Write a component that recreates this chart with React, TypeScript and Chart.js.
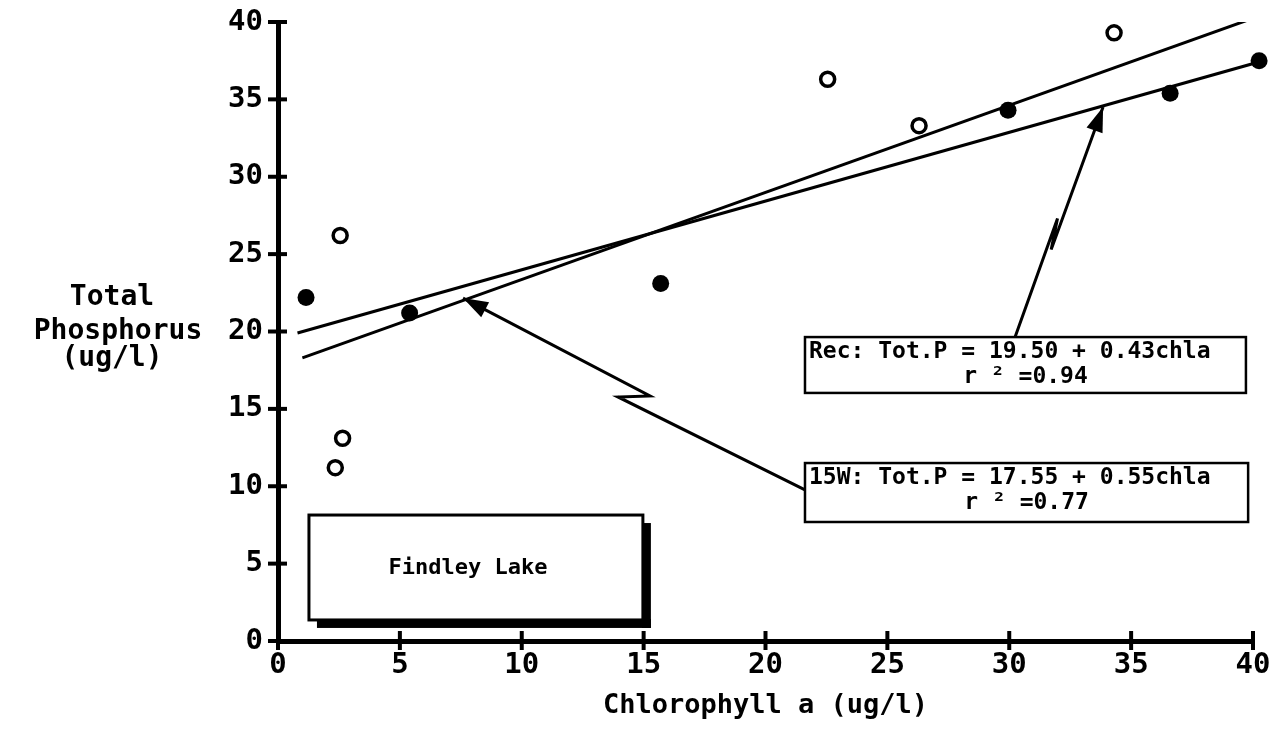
import React, { useEffect, useRef } from 'react';
import { Chart, registerables } from 'chart.js';

Chart.register(...registerables);

// ---- data ----
const xTicks = [0, 5, 10, 15, 20, 25, 30, 35, 40];
const yTicks = [0, 5, 10, 15, 20, 25, 30, 35, 40];

const filledX = [1.15, 5.4, 15.7, 29.95, 36.6, 40.25];
const filledY = [22.2, 21.2, 23.1, 34.3, 35.4, 37.5];

const openX = [2.55, 2.35, 2.65, 22.55, 26.3, 34.3];
const openY = [26.2, 11.2, 13.1, 36.3, 33.3, 39.3];

const recLineX = [0.8, 40.2];
const recLineY = [19.9, 37.4];
const w15LineX = [1.0, 40.1];
const w15LineY = [18.3, 40.3];

const xTitle = 'Chlorophyll a (ug/l)';
const yTitleLines = ['Total', 'Phosphorus', '(ug/l)'];
const lakeLabel = 'Findley Lake';
const recLabel = ['Rec: Tot.P = 19.50 + 0.43chla', 'r ² =0.94'];
const w15Label = ['15W: Tot.P = 17.55 + 0.55chla', 'r ² =0.77'];

// annotation anchors (data units)
const lakeBox = [1.27, 8.14, 14.97, 1.36];
const recBox = [21.62, 19.64, 39.71, 16.03];
const w15Box = [21.62, 11.5, 39.8, 7.69];
const recArrowX = [30.24, 31.98, 31.72, 33.85];
const recArrowY = [19.64, 27.3, 25.3, 34.51];
const w15ArrowX = [21.62, 13.95, 15.26, 7.59];
const w15ArrowY = [9.76, 15.77, 15.83, 22.16];

const FONT = '"DejaVu Sans Mono", monospace';

const toPts = (xs: number[], ys: number[]) => xs.map((x, i) => ({ x, y: ys[i] }));

const annotationPlugin = {
  id: 'annotations',
  afterDraw(chart: any) {
    const { ctx, chartArea, scales } = chart;
    const xs = scales.x;
    const ys = scales.y;
    const px = (v: number) => xs.getPixelForValue(v);
    const py = (v: number) => ys.getPixelForValue(v);
    ctx.save();
    ctx.strokeStyle = '#000';
    ctx.fillStyle = '#000';
    ctx.lineCap = 'butt';

    // tick marks crossing the axes
    ctx.lineWidth = 4;
    xTicks.forEach((t) => {
      const x = px(t);
      ctx.beginPath();
      ctx.moveTo(x, chartArea.bottom - 10);
      ctx.lineTo(x, chartArea.bottom + 9);
      ctx.stroke();
    });
    yTicks.forEach((t) => {
      const y = py(t);
      ctx.beginPath();
      ctx.moveTo(chartArea.left - 10, y);
      ctx.lineTo(chartArea.left + 9, y);
      ctx.stroke();
    });

    // y axis title (horizontal, three lines)
    ctx.font = `bold 28px ${FONT}`;
    ctx.textAlign = 'center';
    ctx.textBaseline = 'middle';
    const yc = py(20);
    const tx = chartArea.left - 160;
    ctx.fillText(yTitleLines[0], tx - 6, yc - 34);
    ctx.fillText(yTitleLines[1], tx, yc);
    ctx.fillText(yTitleLines[2], tx - 6, yc + 27);

    // Findley Lake box with shadow
    {
      const x0 = px(lakeBox[0]), y0 = py(lakeBox[1]), x1 = px(lakeBox[2]), y1 = py(lakeBox[3]);
      ctx.fillRect(x1 - 1, y0 + 8, 9, y1 - y0);
      ctx.fillRect(x0 + 8, y1 - 1, x1 - x0, 9);
      ctx.fillStyle = '#fff';
      ctx.fillRect(x0, y0, x1 - x0, y1 - y0);
      ctx.fillStyle = '#000';
      ctx.lineWidth = 3;
      ctx.strokeRect(x0, y0, x1 - x0, y1 - y0);
      ctx.font = `bold 22px ${FONT}`;
      ctx.fillText(lakeLabel, (x0 + x1) / 2 - 8, (y0 + y1) / 2 + 1);
    }

    // equation boxes
    const eqBox = (b: number[], lines: string[]) => {
      const x0 = px(b[0]), y0 = py(b[1]), x1 = px(b[2]), y1 = py(b[3]);
      ctx.fillStyle = '#fff';
      ctx.fillRect(x0, y0, x1 - x0, y1 - y0);
      ctx.fillStyle = '#000';
      ctx.lineWidth = 2.5;
      ctx.strokeRect(x0, y0, x1 - x0, y1 - y0);
      ctx.font = `bold 23px ${FONT}`;
      ctx.textAlign = 'left';
      ctx.fillText(lines[0], x0 + 4, y0 + 15);
      ctx.textAlign = 'center';
      ctx.fillText(lines[1], (x0 + x1) / 2, y0 + 40);
    };
    eqBox(recBox, recLabel);
    eqBox(w15Box, w15Label);

    // zigzag arrows
    const arrow = (axs: number[], ays: number[]) => {
      const p = axs.map((x, i) => [px(x), py(ays[i])]);
      ctx.lineWidth = 3;
      ctx.lineJoin = 'miter';
      ctx.beginPath();
      ctx.moveTo(p[0][0], p[0][1]);
      for (let i = 1; i < p.length; i++) ctx.lineTo(p[i][0], p[i][1]);
      ctx.stroke();
      const tip = p[p.length - 1];
      const prev = p[p.length - 2];
      const dx = tip[0] - prev[0], dy = tip[1] - prev[1];
      const len = Math.hypot(dx, dy);
      const ux = dx / len, uy = dy / len;
      const hl = 25, hw = 8.5;
      const bx = tip[0] - ux * hl, by = tip[1] - uy * hl;
      ctx.beginPath();
      ctx.moveTo(tip[0], tip[1]);
      ctx.lineTo(bx - uy * hw, by + ux * hw);
      ctx.lineTo(bx + uy * hw, by - ux * hw);
      ctx.closePath();
      ctx.fill();
    };
    arrow(recArrowX, recArrowY);
    arrow(w15ArrowX, w15ArrowY);

    ctx.restore();
  },
};

export default function App() {
  const ref = useRef<HTMLCanvasElement | null>(null);

  useEffect(() => {
    if (!ref.current) return;
    const fixPad = (s: any) => {
      s.paddingTop = 0;
      s.paddingBottom = 0;
      s.paddingLeft = 0;
      s.paddingRight = 0;
    };
    const chart = new Chart(ref.current, {
      type: 'scatter',
      data: {
        datasets: [
          {
            type: 'line',
            label: 'Rec',
            data: toPts(recLineX, recLineY),
            borderColor: '#000',
            borderWidth: 3,
            pointRadius: 0,
            fill: false,
          },
          {
            type: 'line',
            label: '15W',
            data: toPts(w15LineX, w15LineY),
            borderColor: '#000',
            borderWidth: 3,
            pointRadius: 0,
            fill: false,
          },
          {
            label: 'Rec points',
            data: toPts(filledX, filledY),
            backgroundColor: '#000',
            borderColor: '#000',
            borderWidth: 0,
            pointRadius: 8.5,
            clip: false,
          },
          {
            label: '15W points',
            data: toPts(openX, openY),
            backgroundColor: '#fff',
            borderColor: '#000',
            borderWidth: 3.5,
            pointRadius: 7,
            clip: false,
          },
        ],
      } as any,
      options: {
        animation: false,
        responsive: true,
        maintainAspectRatio: false,
        layout: { padding: { left: 0, top: 14, right: 21, bottom: 0 } },
        plugins: {
          legend: { display: false },
          tooltip: { enabled: false },
        },
        scales: {
          x: {
            type: 'linear',
            min: 0,
            max: 40,
            afterBuildTicks: (s: any) => {
              s.ticks = xTicks.map((v) => ({ value: v }));
            },
            ticks: {
              color: '#000',
              font: { family: FONT, size: 29, weight: 'bold' },
              padding: 7,
              maxRotation: 0,
            },
            grid: { display: false, drawTicks: false },
            border: { display: true, color: '#000', width: 5 },
            title: {
              display: true,
              text: xTitle,
              color: '#000',
              font: { family: FONT, size: 27, weight: 'bold' },
              padding: { top: 0, bottom: 8 },
            },
            afterFit: (s: any) => {
              s.height = 89;
              fixPad(s);
            },
          },
          y: {
            type: 'linear',
            min: 0,
            max: 40,
            afterBuildTicks: (s: any) => {
              s.ticks = yTicks.map((v) => ({ value: v }));
            },
            ticks: {
              color: '#000',
              font: { family: FONT, size: 29, weight: 'bold' },
              padding: 15,
            },
            grid: { display: false, drawTicks: false },
            border: { display: true, color: '#000', width: 5 },
            afterFit: (s: any) => {
              s.width = 270;
              fixPad(s);
            },
          },
        },
      } as any,
      plugins: [annotationPlugin],
    });
    return () => chart.destroy();
  }, []);

  return (
    <div style={{ position: 'relative', width: 1266, height: 722 }}>
      <canvas ref={ref} />
    </div>
  );
}
